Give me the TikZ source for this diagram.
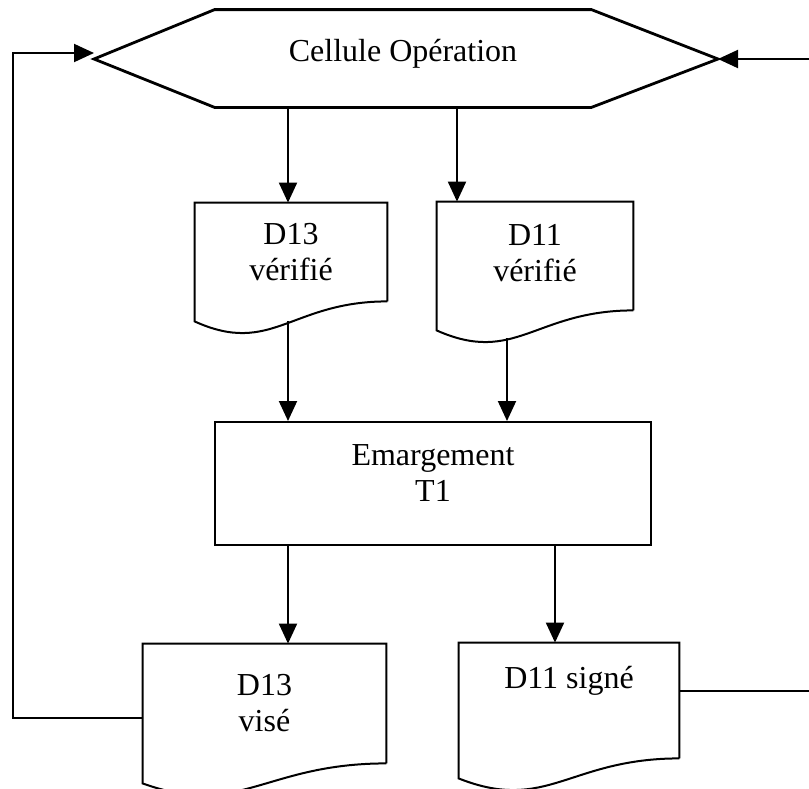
\documentclass[tikz,border=0pt]{standalone}
\usepackage{fontspec}
\setmainfont{Liberation Serif}
\usetikzlibrary{arrows.meta, calc}

\begin{document}
\begin{tikzpicture}[
    x=0.5pt, y=-0.5pt,
    font=\fontsize{16pt}{18pt}\selectfont,
    docbox/.style={align=center, inner sep=0pt},
    procbox/.style={draw, line width=1pt, align=center, inner sep=0pt},
    hexline/.style={line width=1.4pt, line join=miter},
    docline/.style={line width=1pt},
    arr/.style={-{Triangle[length=10pt, width=9pt]}, line width=1pt}]
  \useasboundingbox (0,0) rectangle (809,788);
  % cellule operation (hexagon)
  \node[inner sep=0pt, minimum width=188pt, text height=25.5pt, text depth=23pt] (op) at (403,58.5) {Cellule Opération};
  \coordinate (opW) at (94,59);
  \coordinate (opE) at (718,59);
  \draw[hexline] (opW) -- (op.north west) -- (op.north east) -- (opE) -- (op.south east) -- (op.south west) -- cycle;
  % documents and treatment
  \node[docbox, minimum width=96pt, minimum height=49pt] (v13) at (291,252) {D13\\vérifié};
  \node[docbox, minimum width=98pt, minimum height=54pt] (v11) at (535,256) {D11\\vérifié\\[-15pt]\mbox{}};
  \node[procbox, minimum width=218pt, minimum height=61.5pt] (emarg) at (433,483.5) {Emargement\\T1\\[-8pt]\mbox{}};
  \node[docbox, minimum width=121.5pt, minimum height=59.5pt] (s13) at (264.5,703.5) {D13\\visé};
  \node[docbox, minimum width=110pt, minimum height=57.5pt] (s11) at (569,700.5) {D11 signé\\\strut};
  \foreach \n in {v13,v11,s13,s11}
    \draw[docline] (\n.south east) -- (\n.north east) -- (\n.north west) -- ([yshift=-10pt]\n.south west)
      .. controls ($(\n.south west)!0.4!(\n.south east)+(0,-27.5pt)$) and ($(\n.south west)!0.5!(\n.south east)$) .. (\n.south east);
  % arrow columns
  \coordinate (cA) at (288,0);
  \coordinate (cB) at (457,0);
  \coordinate (cD) at (555,0);
  \coordinate (t13) at ([yshift=-10pt]v13.south);
  \coordinate (t11) at ([xshift=-14pt, yshift=-14pt]v11.south);
  \draw[arr] (cA |- op.south) -- (cA |- v13.north);
  \draw[arr] (cB |- op.south) -- (cB |- v11.north);
  \draw[arr] (cA |- t13) -- (cA |- emarg.north);
  \draw[arr] (t11) -- (t11 |- emarg.north);
  \draw[arr] (cA |- emarg.south) -- (cA |- s13.north);
  \draw[arr] (cD |- emarg.south) -- (cD |- s11.north);
  % return loops
  \coordinate (loopL) at (13,0);
  \coordinate (loopR) at (815,0);
  \coordinate (inL) at ([yshift=3pt]opW);
  \draw[arr] ([yshift=-7.25pt]s13.west) -| (loopL |- inL) -- (inL);
  \draw[arr] ([yshift=4.75pt]s11.east) -| (loopR |- opE) -- (opE);
\end{tikzpicture}
\end{document}
